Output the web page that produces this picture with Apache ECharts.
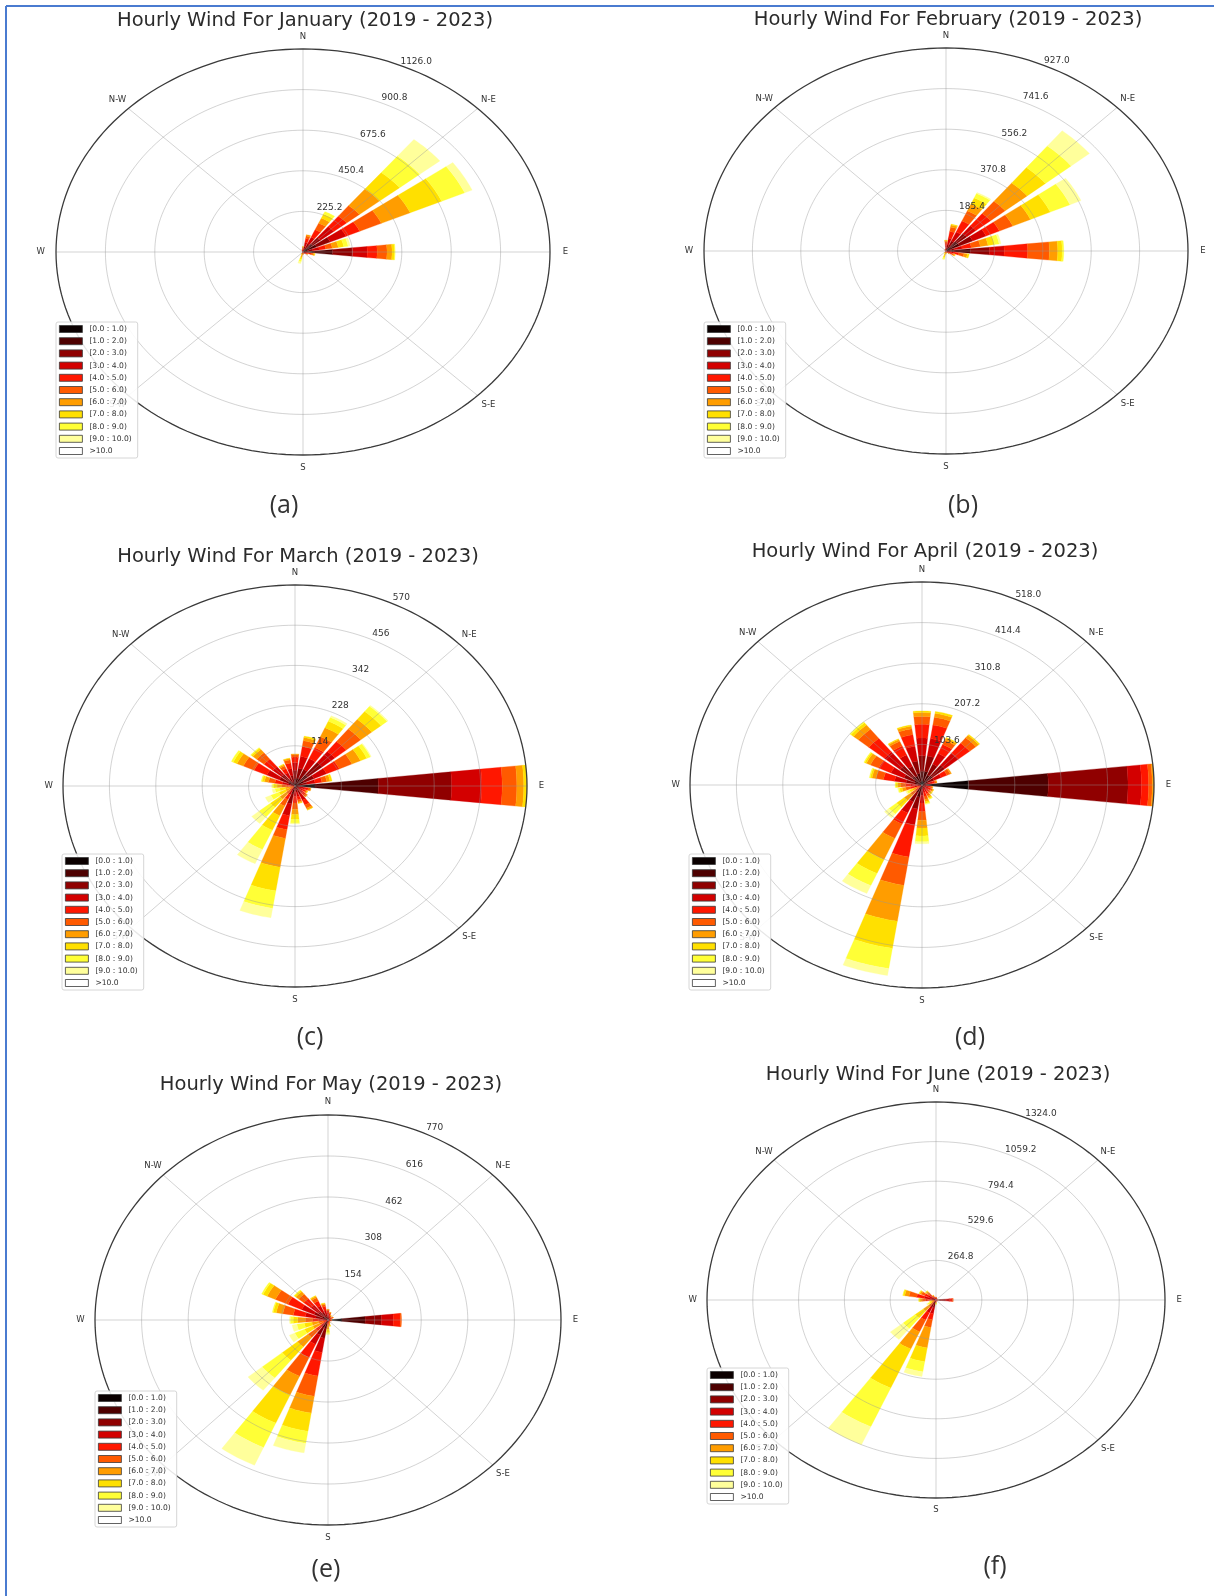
<!DOCTYPE html>
<html>
<head>
<meta charset="utf-8">
<script src="https://cdn.jsdelivr.net/npm/echarts/dist/echarts.min.js"></script>
<style>
html,body{margin:0;padding:0;background:#ffffff;}
#chart{width:1214px;height:1596px;}
</style>
</head>
<body>
<div id="chart"></div>
<script>
// ---------------- DATA ----------------
// 24 direction sectors (0°, 15°, ... 345°, clockwise from North), 11 speed bins each (hours)
const binLabels = ['[0.0 : 1.0)','[1.0 : 2.0)','[2.0 : 3.0)','[3.0 : 4.0)','[4.0 : 5.0)','[5.0 : 6.0)','[6.0 : 7.0)','[7.0 : 8.0)','[8.0 : 9.0)','[9.0 : 10.0)','>10.0'];
const dirLabels = ['N','N-E','E','S-E','S','S-W','W','N-W'];

const janCounts = [
 [0,3,5,7,6,5,3,1,0,0,0],[0,10,20,25,20,15,7,0,0,0,0],[5,15,30,40,45,40,30,25,15,0,0],[23,34,45,79,75,75,118,118,118,118,0],
 [23,45,68,79,68,108,144,157,115,37,0],[5,15,25,30,30,30,28,25,20,10,0],[45,90,90,68,45,45,23,11,3,0,0],[2,5,8,10,12,10,6,3,0,0,0],
 [1,3,5,6,5,3,2,0,0,0,0],[0,2,3,3,2,1,0,0,0,0,0],[0,1,2,2,1,1,0,0,0,0,0],[0,1,1,2,2,1,1,0,0,0,0],
 [0,1,2,3,3,3,2,1,0,0,0],[0,0,2,3,5,8,10,12,15,10,0],[0,0,1,2,3,3,3,2,1,0,0],[0,0,1,1,1,1,1,1,0,0,0],
 [0,0,0,1,1,1,1,0,0,0,0],[0,0,0,0,1,1,0,0,0,0,0],[0,0,0,1,1,0,0,0,0,0,0],[0,0,0,1,1,0,0,0,0,0,0],
 [0,0,1,1,1,0,0,0,0,0,0],[0,0,1,1,1,0,0,0,0,0,0],[0,1,2,2,1,0,0,0,0,0,0],[0,2,3,4,3,2,1,0,0,0,0]
];
const febCounts = [
 [0,4,8,12,12,8,4,2,0,0,0],[0,10,20,30,30,20,10,4,0,0,0],[5,15,30,45,55,50,35,30,22,5,0],[19,37,46,46,72,72,108,90,127,90,0],
 [19,37,56,56,56,56,74,83,83,46,0],[3,10,20,30,35,35,30,25,18,7,0],[28,65,74,56,90,83,32,17,6,0,0],[0,5,10,15,20,20,13,7,0,0,0],
 [0,3,5,8,9,8,5,2,0,0,0],[0,1,3,4,4,3,2,1,0,0,0],[0,1,2,2,2,1,0,0,0,0,0],[0,0,1,2,2,1,1,0,0,0,0],
 [0,0,1,2,2,3,3,2,1,0,0],[0,0,1,2,4,6,8,9,7,3,0],[0,0,1,1,2,2,3,3,2,1,0],[0,0,0,1,1,1,1,1,0,0,0],
 [0,0,0,1,1,1,0,0,0,0,0],[0,0,0,0,1,1,0,0,0,0,0],[0,0,0,1,1,0,0,0,0,0,0],[0,0,1,1,1,0,0,0,0,0,0],
 [0,0,1,1,1,1,0,0,0,0,0],[0,1,2,2,1,1,0,0,0,0,0],[0,1,2,2,1,1,0,0,0,0,0],[0,1,2,2,1,1,0,0,0,0,0]
];
const marCounts = [
 [5,15,25,22,15,7,2,0,0,0,0],[6,17,28,34,28,17,9,4,0,0,0],[6,17,28,34,34,34,28,20,12,5,0],[11,29,46,40,36,46,35,29,19,3,0],
 [6,17,28,34,34,34,23,17,10,2,0],[3,10,17,20,17,12,8,5,0,0,0],[49,156,180,74,50,36,17,8,0,0,0],[2,5,8,10,8,5,2,0,0,0,0],
 [1,4,7,9,7,4,2,1,0,0,0],[2,5,8,10,8,5,2,0,0,0,0],[3,9,14,18,15,10,5,1,0,0,0],[2,6,10,12,10,6,3,1,0,0,0],
 [0,5,10,15,18,18,15,14,10,3,0],[6,17,28,34,40,25,83,68,50,27,0],[2,5,8,12,15,20,30,45,60,44,0],[0,0,3,5,8,12,20,30,35,24,0],
 [0,0,0,0,5,8,12,18,22,15,0],[0,0,0,2,4,8,10,14,12,7,0],[0,1,3,6,10,12,12,8,4,1,0],[2,5,10,15,18,16,10,6,2,0,0],
 [5,14,23,34,34,29,17,10,5,0,0],[5,14,23,28,28,23,12,5,2,0,0],[3,8,14,16,13,8,4,2,0,0,0],[3,10,17,20,16,9,4,1,0,0,0]
];
const aprCounts = [
 [10,25,40,45,35,20,10,4,0,0,0],[10,25,40,45,35,20,10,5,0,0,0],[8,20,30,30,25,12,6,2,0,0,0],[8,22,35,40,32,18,8,3,0,0,0],
 [4,10,15,18,14,8,3,0,0,0,0],[2,5,8,8,6,3,2,0,0,0,0],[104,178,178,30,16,8,4,0,0,0,0],[1,3,5,6,5,3,2,0,0,0,0],
 [1,3,5,7,6,4,2,1,0,0,0],[1,3,5,6,6,4,3,2,0,0,0],[1,3,5,8,8,6,4,3,2,0,0],[1,3,6,9,10,8,6,4,2,1,0],
 [3,8,15,20,22,22,20,20,15,5,0],[10,21,31,41,83,73,93,70,52,18,0],[5,16,26,31,31,40,59,39,34,22,0],[0,0,3,6,10,14,18,22,22,13,0],
 [0,0,1,3,5,6,8,8,6,3,0],[1,3,5,8,10,10,8,6,3,1,0],[2,5,8,10,12,10,7,4,2,0,0],[4,12,20,26,25,17,9,4,2,0,0],
 [5,14,25,32,30,20,10,4,2,0,0],[8,20,35,45,45,30,14,7,3,0,0],[7,18,27,32,25,13,5,2,0,0,0],[8,22,32,38,30,15,7,3,0,0,0]
];
const mayCounts = [
 [2,5,9,10,8,4,2,0,0,0,0],[1,4,6,7,6,4,2,0,0,0,0],[1,2,4,5,4,2,1,1,0,0,0],[0,2,3,4,3,2,1,0,0,0,0],
 [0,2,4,5,5,3,1,0,0,0,0],[0,1,2,3,3,2,1,0,0,0,0],[46,77,54,39,23,4,0,0,0,0,0],[1,2,3,3,2,1,0,0,0,0,0],
 [0,1,2,2,2,1,0,0,0,0,0],[0,1,1,2,2,1,1,0,0,0,0],[0,1,2,3,3,2,1,1,0,0,0],[0,1,3,4,5,5,4,2,1,0,0],
 [0,1,3,5,7,9,10,10,7,3,0],[8,23,38,54,90,77,64,69,46,36,0],[8,23,31,38,54,77,77,116,100,73,0],[2,5,10,14,22,32,45,65,85,60,0],
 [0,0,0,5,10,15,25,30,35,20,0],[0,0,2,5,10,15,22,25,25,16,0],[0,5,10,15,20,25,25,15,10,2,0],[4,12,25,35,40,35,22,10,3,0,0],
 [5,15,30,45,50,45,30,15,5,0,0],[4,12,25,32,30,22,12,6,2,0,0],[3,10,20,25,20,13,6,3,0,0,0],[2,7,13,16,13,8,4,2,0,0,0]
];
const junCounts = [
 [1,3,5,5,4,2,0,0,0,0,0],[0,2,3,4,3,2,1,0,0,0,0],[0,1,2,2,2,1,0,0,0,0,0],[0,1,2,2,2,1,0,0,0,0,0],
 [0,1,2,2,2,1,0,0,0,0,0],[0,1,2,2,2,1,0,0,0,0,0],[5,20,30,25,15,5,0,0,0,0,0],[0,1,2,2,2,1,0,0,0,0,0],
 [0,1,2,2,2,1,0,0,0,0,0],[0,1,2,2,2,1,0,0,0,0,0],[0,1,2,2,2,1,0,0,0,0,0],[0,1,2,2,2,1,0,0,0,0,0],
 [0,1,2,4,5,5,5,4,3,1,0],[7,20,26,40,40,53,138,93,69,32,0],[7,20,26,40,53,86,126,286,283,132,0],[0,0,5,10,15,25,40,60,90,95,0],
 [0,0,1,3,5,8,10,12,13,8,0],[0,1,2,4,6,8,8,6,4,1,0],[2,6,12,18,22,20,12,6,2,0,0],[3,10,20,35,45,45,25,10,1,0,0],
 [2,8,15,22,25,20,10,5,1,0,0],[1,5,10,15,18,15,10,5,1,0,0],[1,3,6,8,8,5,3,1,0,0,0],[0,2,4,5,4,3,2,0,0,0,0]
];

// radial tick labels (the last one is the outer circle)
const janTicks = ['225.2','450.4','675.6','900.8','1126.0'];
const febTicks = ['185.4','370.8','556.2','741.6','927.0'];
const marTicks = ['114','228','342','456','570'];
const aprTicks = ['103.6','207.2','310.8','414.4','518.0'];
const mayTicks = ['154','308','462','616','770'];
const junTicks = ['264.8','529.6','794.4','1059.2','1324.0'];

const titles = ['Hourly Wind For January (2019 - 2023)','Hourly Wind For February (2019 - 2023)','Hourly Wind For March (2019 - 2023)',
                'Hourly Wind For April (2019 - 2023)','Hourly Wind For May (2019 - 2023)','Hourly Wind For June (2019 - 2023)'];
const letters = ['(a)','(b)','(c)','(d)','(e)','(f)'];
const counts = [janCounts, febCounts, marCounts, aprCounts, mayCounts, junCounts];
const ticks = [janTicks, febTicks, marTicks, aprTicks, mayTicks, junTicks];

// ---------------- LAYOUT / STYLE ----------------
const layout = [
 {cx:303, cy:252, rx:247, ry:203, tx:305, ty:21,  lx:284, ly:506,  legL:56,  legT:322},
 {cx:946, cy:251, rx:242, ry:203, tx:948, ty:20,  lx:963, ly:506,  legL:704, legT:322},
 {cx:295, cy:786, rx:232, ry:201, tx:298, ty:557, lx:310, ly:1038, legL:62,  legT:854},
 {cx:922, cy:785, rx:232, ry:203, tx:925, ty:552, lx:970, ly:1038, legL:689, legT:854},
 {cx:328, cy:1320,rx:233, ry:205, tx:331, ty:1085,lx:326, ly:1570, legL:95,  legT:1391},
 {cx:936, cy:1300,rx:229, ry:198, tx:938, ty:1075,lx:995, ly:1567, legL:707, legT:1368}
];
const binColors = ['#0b0000','#4e0000','#900000','#d30000','#ff1700','#ff5a00','#ff9d00','#ffe000','#ffff36','#ffff9b','#ffffff'];
const SECTOR = 15, HALF = 6;
const FONT = 'DejaVu Sans';
const GRIDLINE = 'rgba(150,150,150,0.42)';

function pt(api, r, deg){ const a = deg*Math.PI/180; return api.coord([r*Math.sin(a), r*Math.cos(a)]); }

const grid=[], xAxis=[], yAxis=[], series=[], legend=[], graphic=[];

counts.forEach((rows, p) => {
  const L = layout[p];
  const tk = ticks[p];
  const M = parseFloat(tk[tk.length-1]);
  grid.push({left:L.cx-L.rx, top:L.cy-L.ry, width:2*L.rx, height:2*L.ry, show:false, outerBoundsMode:'none'});
  xAxis.push({type:'value', gridIndex:p, min:-M, max:M, show:false});
  yAxis.push({type:'value', gridIndex:p, min:-M, max:M, show:false});

  // stacked bars, one series per speed bin
  binLabels.forEach((name, b) => {
    const data = [];
    rows.forEach((row, d) => {
      let s = 0; for (let k=0;k<b;k++) s += row[k];
      if (row[b] > 0) data.push([d, s, s+row[b]]);
    });
    const color = binColors[b];
    series.push({
      name, type:'custom', xAxisIndex:p, yAxisIndex:p, silent:true, animation:false, z:2,
      itemStyle:{color}, data,
      renderItem:(params, api) => {
        const c = api.value(0)*SECTOR, r0 = api.value(1), r1 = api.value(2);
        const pts = [];
        for (let k=0;k<=12;k++) pts.push(pt(api, r1, c-HALF+2*HALF*k/12));
        for (let k=12;k>=0;k--) pts.push(pt(api, r0, c-HALF+2*HALF*k/12));
        return {type:'polygon', shape:{points:pts}, style:{fill:color, stroke:color, lineWidth:0.3}};
      }
    });
  });

  // rings
  series.push({
    type:'custom', xAxisIndex:p, yAxisIndex:p, silent:true, animation:false, z:3,
    data: tk.map((t,i)=>[parseFloat(t), i===tk.length-1 ? 1 : 0]),
    renderItem:(params, api) => {
      const r = api.value(0), outer = api.value(1) === 1;
      const pts = [];
      for (let a=0;a<=360;a+=2) pts.push(pt(api, r, a));
      return {type:'polyline', shape:{points:pts}, style:{stroke: outer ? '#3a3a3a' : GRIDLINE, lineWidth: outer ? 1.3 : 1, fill:null}, z2: outer ? 2 : 1};
    }
  });
  // spokes
  series.push({
    type:'custom', xAxisIndex:p, yAxisIndex:p, silent:true, animation:false, z:3,
    data: dirLabels.map((d,i)=>[i*45, M]),
    renderItem:(params, api) => {
      const a = api.value(0), r = api.value(1);
      return {type:'polyline', shape:{points:[pt(api,0,a), pt(api,r,a)]}, style:{stroke:GRIDLINE, lineWidth:1, fill:null}};
    }
  });
  // direction labels
  series.push({
    type:'custom', xAxisIndex:p, yAxisIndex:p, silent:true, animation:false, z:3,
    data: dirLabels.map((d,i)=>[i*45, M*1.062, i]),
    renderItem:(params, api) => {
      const c = pt(api, api.value(1), api.value(0));
      return {type:'text', x:c[0], y:c[1], style:{text:dirLabels[api.value(2)], fill:'#333', fontSize:8.5, fontFamily:FONT, align:'center', verticalAlign:'middle'}};
    }
  });
  // radial tick labels
  series.push({
    type:'custom', xAxisIndex:p, yAxisIndex:p, silent:true, animation:false, z:5,
    data: tk.map((t,i)=>[parseFloat(t) + 0.045*M, i]),
    renderItem:(params, api) => {
      const c = pt(api, api.value(0), 26);
      return {type:'text', x:c[0], y:c[1], style:{text:tk[api.value(1)], fill:'#333', fontSize:9, fontFamily:FONT, align:'center', verticalAlign:'middle'}};
    }
  });

  legend.push({
    data: binLabels.map(n=>({name:n, icon:'rect'})),
    orient:'vertical', left:L.legL, top:L.legT, z:20,
    itemWidth:23, itemHeight:7, itemGap:4.2,
    padding:[3,6,3,3],
    selectedMode:false,
    backgroundColor:'rgba(255,255,255,0.88)', borderColor:'#d6d6d6', borderWidth:1, borderRadius:2,
    itemStyle:{borderColor:'#3a3a3a', borderWidth:0.8},
    textStyle:{fontSize:7.6, lineHeight:8, color:'#333', fontFamily:FONT, padding:[0,0,0,2]}
  });

  graphic.push({type:'text', x:L.tx, y:L.ty, z:10, style:{text:titles[p], fill:'#2b2b2b', fontSize:19.5, fontFamily:FONT, align:'center', verticalAlign:'middle'}});
  graphic.push({type:'text', x:L.lx, y:L.ly, z:10, style:{text:letters[p], fill:'#333', fontSize:25, fontFamily:'Open Sans', align:'center', verticalAlign:'middle'}});
});

// blue frame of the figure
graphic.push({type:'line', shape:{x1:6, y1:6, x2:1214, y2:6}, style:{stroke:'#4a7bd0', lineWidth:2}});
graphic.push({type:'line', shape:{x1:6, y1:6, x2:6, y2:1596}, style:{stroke:'#4a7bd0', lineWidth:2}});

const chart = echarts.init(document.getElementById('chart'), null, {renderer:'canvas', width:1214, height:1596});
chart.setOption({backgroundColor:'#ffffff', animation:false, grid, xAxis, yAxis, legend, series, graphic});
</script>
</body>
</html>
